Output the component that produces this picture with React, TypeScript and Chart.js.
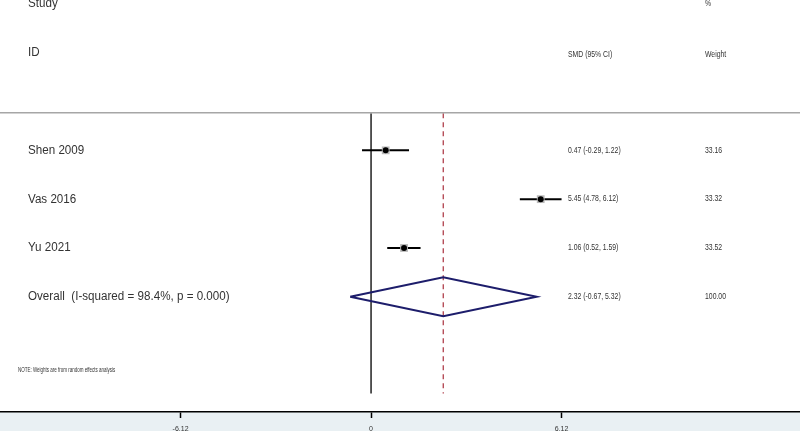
import { useEffect, useRef } from "react"
import { Chart, registerables } from "chart.js"

Chart.register(...registerables)

// study rows
const studies = ["Shen 2009", "Vas 2016", "Yu 2021"]
const smd = [0.47, 5.45, 1.06]
const ciLower = [-0.29, 4.78, 0.52]
const ciUpper = [1.22, 6.12, 1.59]
const weights = [33.16, 33.32, 33.52]

// pooled estimate
const overallLabel = "Overall  (I-squared = 98.4%, p = 0.000)"
const overallSmd = 2.32
const overallLower = -0.67
const overallUpper = 5.32
const overallWeight = 100.0

const axisTicks = [-6.12, 0, 6.12]
const noteText = "NOTE: Weights are from random effects analysis"

// layout (row units on the y axis, SMD units on the x axis)
const X_MIN = -11.92
const X_MAX = 13.78
const Y_MIN = -2.08
const Y_MAX = 6.36
const RULE_TOP = 0.24
const RULE_BOTTOM = 5.98
const DIAMOND_HALF = 0.4

const FONT = '"Liberation Sans", Arial, Helvetica, sans-serif'

const fmt = (v: number) => v.toFixed(2)
const ciText = (e: number, lo: number, hi: number) => `${fmt(e)} (${fmt(lo)}, ${fmt(hi)})`

function drawText(ctx: CanvasRenderingContext2D, s: string, x: number, y: number, size: number, sx = 1, color = "#333") {
  ctx.save()
  ctx.translate(x, y)
  ctx.scale(sx, 1)
  ctx.font = `${size}px ${FONT}`
  ctx.fillStyle = color
  ctx.textBaseline = "middle"
  ctx.textAlign = "left"
  ctx.fillText(s, 0, 0)
  ctx.restore()
}

const BIG = 12.5
const BIG_SX = 0.93
const SMALL = 8.4
const SMALL_SX = 0.82

const forestPlugin = {
  id: "forestText",
  beforeDraw(chart: Chart) {
    const { ctx, width, height, chartArea } = chart
    ctx.save()
    ctx.fillStyle = "#ffffff"
    ctx.fillRect(0, 0, width, height)
    ctx.fillStyle = "#e9f0f3"
    ctx.fillRect(0, chartArea.bottom, width, height - chartArea.bottom)
    ctx.restore()
  },
  afterDatasetsDraw(chart: Chart) {
    const { ctx, width } = chart
    const y = chart.scales.y
    const rowY = (r: number) => y.getPixelForValue(r)

    // header rule
    ctx.save()
    ctx.strokeStyle = "#a6a6a6"
    ctx.lineWidth = 1.5
    ctx.beginPath()
    ctx.moveTo(0, rowY(RULE_TOP) - 0.5)
    ctx.lineTo(width, rowY(RULE_TOP) - 0.5)
    ctx.stroke()
    ctx.restore()

    // headers
    drawText(ctx, "Study", 28, rowY(-2), BIG, BIG_SX)
    drawText(ctx, "ID", 28, rowY(-1), BIG, BIG_SX)
    drawText(ctx, "%", 705, rowY(-2), SMALL, SMALL_SX)
    drawText(ctx, "SMD (95% CI)", 568, rowY(-1) + 2, SMALL, SMALL_SX)
    drawText(ctx, "Weight", 705, rowY(-1) + 2, SMALL, SMALL_SX)

    studies.forEach((name, i) => {
      const py = rowY(i + 1)
      drawText(ctx, name, 28, py, BIG, BIG_SX)
      drawText(ctx, ciText(smd[i], ciLower[i], ciUpper[i]), 568, py, SMALL, SMALL_SX)
      drawText(ctx, fmt(weights[i]), 705, py, SMALL, SMALL_SX)
    })
    const oy = rowY(studies.length + 1)
    drawText(ctx, overallLabel, 28, oy, BIG, BIG_SX)
    drawText(ctx, ciText(overallSmd, overallLower, overallUpper), 568, oy, SMALL, SMALL_SX)
    drawText(ctx, fmt(overallWeight), 705, oy, SMALL, SMALL_SX)

    drawText(ctx, noteText, 18, rowY(5.5), 6.5, 0.69)
  },
}

export default function App() {
  const canvasRef = useRef<HTMLCanvasElement>(null)
  const chartInstance = useRef<Chart | null>(null)

  useEffect(() => {
    if (!canvasRef.current) return
    if (chartInstance.current) chartInstance.current.destroy()
    const ctx = canvasRef.current.getContext("2d")
    if (!ctx) return

    const overallRow = studies.length + 1

    const ciSets = studies.map((name, i) => ({
      label: name + " CI",
      data: [
        { x: ciLower[i], y: i + 1 },
        { x: ciUpper[i], y: i + 1 },
      ],
      showLine: true,
      borderColor: "#000",
      borderWidth: 2,
      pointRadius: 0,
      order: 2,
    }))

    chartInstance.current = new Chart(ctx, {
      type: "scatter",
      data: {
        datasets: [
          {
            label: "SMD",
            data: smd.map((v, i) => ({ x: v, y: i + 1 })),
            pointStyle: "circle",
            pointRadius: 3,
            backgroundColor: "#000",
            borderColor: "#000",
            borderWidth: 0,
            order: 0,
          },
          {
            label: "Weight box",
            data: smd.map((v, i) => ({ x: v, y: i + 1 })),
            pointStyle: "rect",
            pointRadius: weights.map((w) => 5.5 * Math.sqrt(w / 33.33)),
            backgroundColor: "#b8b8b8",
            borderColor: "#b8b8b8",
            borderWidth: 0,
            order: 1,
          },
          ...ciSets,
          {
            label: "Overall",
            data: [
              { x: overallLower, y: overallRow },
              { x: overallSmd, y: overallRow - DIAMOND_HALF },
              { x: overallUpper, y: overallRow },
              { x: overallSmd, y: overallRow + DIAMOND_HALF },
              { x: overallLower, y: overallRow },
            ],
            showLine: true,
            borderColor: "#1d1d6b",
            borderWidth: 2,
            pointRadius: 0,
            order: 3,
          },
          {
            label: "No effect",
            data: [
              { x: 0, y: RULE_TOP },
              { x: 0, y: RULE_BOTTOM },
            ],
            showLine: true,
            borderColor: "#000",
            borderWidth: 1.3,
            pointRadius: 0,
            order: 4,
          },
          {
            label: "Pooled",
            data: [
              { x: overallSmd, y: RULE_TOP },
              { x: overallSmd, y: RULE_BOTTOM },
            ],
            showLine: true,
            borderColor: "#b0404c",
            borderWidth: 1.3,
            borderDash: [5, 4],
            pointRadius: 0,
            order: 5,
          },
        ],
      },
      options: {
        animation: false,
        responsive: true,
        maintainAspectRatio: false,
        layout: { padding: { top: 0, left: 0, right: 0, bottom: -10 }, autoPadding: false },
        plugins: {
          legend: { display: false },
          tooltip: { enabled: false },
        },
        scales: {
          x: {
            type: "linear",
            min: X_MIN,
            max: X_MAX,
            afterBuildTicks: (axis) => {
              axis.ticks = axisTicks.map((v) => ({ value: v }))
            },
            grid: {
              drawOnChartArea: false,
              drawTicks: true,
              tickLength: 6,
              tickWidth: 1.5,
              tickColor: "#000",
            },
            border: { color: "#000", width: 1.5 },
            ticks: {
              font: { size: 7, family: FONT, lineHeight: 1 },
              color: "#333",
              padding: 8,
              maxRotation: 0,
              autoSkip: false,
              callback: (v) => String(v),
            },
          },
          y: {
            type: "linear",
            display: false,
            min: Y_MIN,
            max: Y_MAX,
            reverse: true,
          },
        },
      },
      plugins: [forestPlugin],
    })

    return () => {
      if (chartInstance.current) {
        chartInstance.current.destroy()
        chartInstance.current = null
      }
    }
  }, [])

  return (
    <div style={{ position: "fixed", left: 0, top: 0, width: 800, height: 431 }}>
      <canvas ref={canvasRef} />
    </div>
  )
}
